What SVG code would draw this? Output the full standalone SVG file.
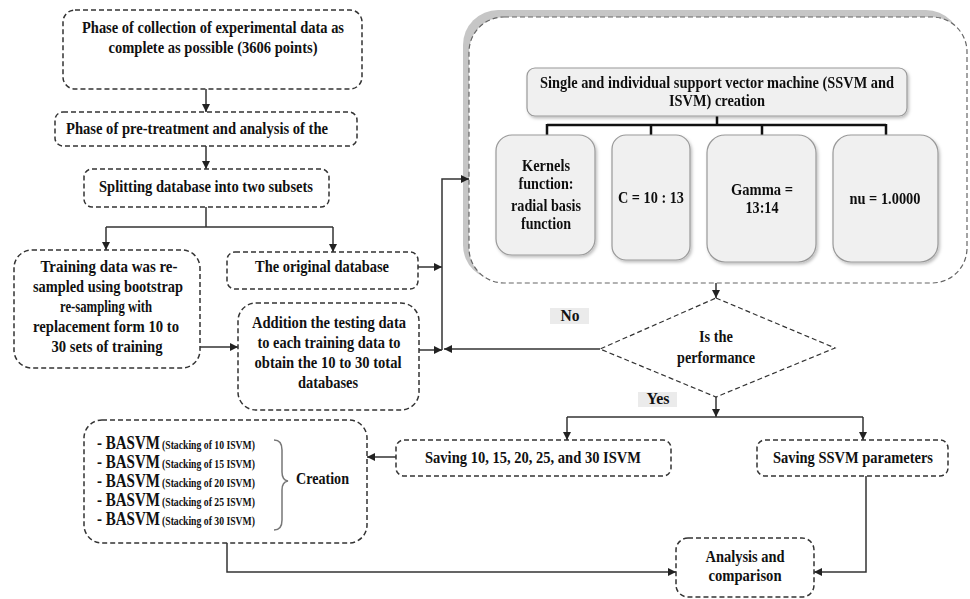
<svg xmlns="http://www.w3.org/2000/svg" width="970" height="599" viewBox="0 0 970 599">
<defs>
<style>
.t{font-family:"Liberation Serif","Times New Roman",serif;font-weight:bold;font-size:17px;fill:#111;text-anchor:middle}
.s{text-anchor:start}
.big{font-size:18px}
.st{font-size:12px}
.m{font-size:16px}
.d{fill:#fff;stroke:#333;stroke-width:1.5;stroke-dasharray:5 3}
.c{fill:none;stroke:#333;stroke-width:1.5}
.g{fill:#f0f0f0;stroke:#999;stroke-width:1.2}
.tree{fill:none;stroke:#111;stroke-width:2.5}
.lab{fill:#ebebeb}
</style>
<marker id="ah" viewBox="0 0 8 8" refX="8" refY="4" markerWidth="8" markerHeight="8" markerUnits="userSpaceOnUse" orient="auto">
<path d="M0,0 L8,4 L0,8 z" fill="#222"/>
</marker>
<filter id="sh" x="-10%" y="-10%" width="130%" height="130%">
<feDropShadow dx="1.5" dy="2" stdDeviation="1.5" flood-color="#000" flood-opacity="0.25"/>
</filter>
</defs>
<rect width="970" height="599" fill="#fff"/>

<g id="svm-container">
<rect x="463" y="10" width="498" height="270" rx="35" fill="#c6c6c6"/>
<rect x="469" y="17" width="498" height="266" rx="35" fill="#fff" stroke="#666" stroke-width="1.2" stroke-dasharray="5 3"/>
</g>

<g id="connectors">
<path class="c" d="M206,89 V112" marker-end="url(#ah)"/>
<path class="c" d="M206,146 V169" marker-end="url(#ah)"/>
<path class="c" d="M206,207 V227 M106,227 H333"/>
<path class="c" d="M106,227 V250" marker-end="url(#ah)"/>
<path class="c" d="M333,227 V252" marker-end="url(#ah)"/>
<path class="c" d="M418,267 H442" marker-end="url(#ah)"/>
<path class="c" d="M200,347 H238" marker-end="url(#ah)"/>
<path class="c" d="M419,350 H442" marker-end="url(#ah)"/>
<path class="c" d="M442,350 V179 H469" marker-end="url(#ah)"/>
<path class="c" d="M600,349 H444" marker-end="url(#ah)"/>
<path class="c" d="M716,283 V298" marker-end="url(#ah)"/>
<path class="c" d="M716,397 V417" marker-end="url(#ah)"/>
<path class="c" d="M567,417 H863"/>
<path class="c" d="M567,417 V440" marker-end="url(#ah)"/>
<path class="c" d="M863,417 V440" marker-end="url(#ah)"/>
<path class="c" d="M396,457 H367" marker-end="url(#ah)"/>
<path class="c" d="M227,543 V572 H676" marker-end="url(#ah)"/>
<path class="c" d="M866,476 V572 H814" marker-end="url(#ah)"/>
<path class="tree" d="M717,116 V125 M547,125 H886 M547,124 V135 M651,124 V135 M762,124 V135 M886,124 V135"/>
</g>

<g id="collection">
<rect class="d" x="63" y="10" width="299" height="79" rx="12"/>
<text class="t" x="213" y="33" textLength="262" lengthAdjust="spacingAndGlyphs">Phase of collection of experimental data as</text>
<text class="t" x="213" y="53" textLength="209" lengthAdjust="spacingAndGlyphs">complete as possible (3606 points)</text>
</g>

<g id="pretreatment">
<rect class="d" x="55" y="112" width="302" height="34" rx="8"/>
<text class="t s" x="66" y="134" textLength="262" lengthAdjust="spacingAndGlyphs">Phase of pre-treatment and analysis of the</text>
</g>

<g id="splitting">
<rect class="d" x="84" y="169" width="245" height="38" rx="8"/>
<text class="t" x="206" y="192" textLength="214" lengthAdjust="spacingAndGlyphs">Splitting database into two subsets</text>
</g>

<g id="training">
<rect class="d" x="14" y="250" width="186" height="118" rx="18"/>
<text class="t" x="109" y="272" textLength="137" lengthAdjust="spacingAndGlyphs">Training data was re-</text>
<text class="t" x="108" y="292" textLength="150" lengthAdjust="spacingAndGlyphs">sampled using bootstrap</text>
<text class="t" x="106" y="312" textLength="92" lengthAdjust="spacingAndGlyphs">re-sampling with</text>
<text class="t" x="106" y="332" textLength="146" lengthAdjust="spacingAndGlyphs">replacement form 10 to</text>
<text class="t" x="107" y="352" textLength="111" lengthAdjust="spacingAndGlyphs">30 sets of training</text>
</g>

<g id="original">
<rect class="d" x="227" y="252" width="191" height="37" rx="8"/>
<text class="t" x="322" y="272" textLength="134" lengthAdjust="spacingAndGlyphs">The original database</text>
</g>

<g id="addition">
<rect class="d" x="238" y="303" width="181" height="107" rx="18"/>
<text class="t" x="329" y="328" textLength="154" lengthAdjust="spacingAndGlyphs">Addition the testing data</text>
<text class="t" x="329" y="348" textLength="143" lengthAdjust="spacingAndGlyphs">to each training data to</text>
<text class="t" x="328" y="368" textLength="147" lengthAdjust="spacingAndGlyphs">obtain the 10 to 30 total</text>
<text class="t" x="328" y="388" textLength="60" lengthAdjust="spacingAndGlyphs">databases</text>
</g>

<g id="svm-creation" filter="url(#sh)">
<rect class="g" x="527" y="68" width="380" height="48" rx="8"/>
<text class="t" x="717" y="88" textLength="354" lengthAdjust="spacingAndGlyphs">Single and individual support vector machine (SSVM and</text>
<text class="t" x="717" y="106" textLength="96" lengthAdjust="spacingAndGlyphs">ISVM) creation</text>
</g>

<g id="kernels" filter="url(#sh)">
<rect class="g" x="496" y="135" width="99" height="120" rx="16"/>
<text class="t m" x="546" y="171" textLength="48" lengthAdjust="spacingAndGlyphs">Kernels</text>
<text class="t m" x="546" y="189" textLength="55" lengthAdjust="spacingAndGlyphs">function:</text>
<text class="t m" x="546" y="211" textLength="70" lengthAdjust="spacingAndGlyphs">radial basis</text>
<text class="t m" x="546" y="229" textLength="50" lengthAdjust="spacingAndGlyphs">function</text>
</g>

<g id="c-param" filter="url(#sh)">
<rect class="g" x="612" y="135" width="78" height="125" rx="14"/>
<text class="t" x="651" y="203" textLength="66" lengthAdjust="spacingAndGlyphs">C = 10 : 13</text>
</g>

<g id="gamma" filter="url(#sh)">
<rect class="g" x="707" y="135" width="109" height="127" rx="18"/>
<text class="t m" x="762" y="195" textLength="62" lengthAdjust="spacingAndGlyphs">Gamma =</text>
<text class="t m" x="762" y="213" textLength="33" lengthAdjust="spacingAndGlyphs">13:14</text>
</g>

<g id="nu" filter="url(#sh)">
<rect class="g" x="833" y="135" width="105" height="127" rx="18"/>
<text class="t" x="885" y="204" textLength="71" lengthAdjust="spacingAndGlyphs">nu = 1.0000</text>
</g>

<g id="decision">
<polygon points="716,298 835,348 716,397 600,349" fill="#fff" stroke="#333" stroke-width="1.2" stroke-dasharray="5 3"/>
<text class="t" x="716" y="342" textLength="34" lengthAdjust="spacingAndGlyphs">Is the</text>
<text class="t" x="716" y="363" textLength="78" lengthAdjust="spacingAndGlyphs">performance</text>
</g>

<g id="label-no">
<rect class="lab" x="550" y="308" width="39" height="16"/>
<text class="t" x="570" y="321" textLength="19" lengthAdjust="spacingAndGlyphs">No</text>
</g>

<g id="label-yes">
<rect class="lab" x="638" y="392" width="39" height="15"/>
<text class="t" x="658" y="404" textLength="23" lengthAdjust="spacingAndGlyphs">Yes</text>
</g>

<g id="saving-isvm">
<rect class="d" x="396" y="440" width="275" height="36" rx="8"/>
<text class="t" x="533" y="463" textLength="216" lengthAdjust="spacingAndGlyphs">Saving 10, 15, 20, 25, and 30 ISVM</text>
</g>

<g id="saving-ssvm">
<rect class="d" x="757" y="440" width="191" height="36" rx="8"/>
<text class="t" x="853" y="463" textLength="160" lengthAdjust="spacingAndGlyphs">Saving SSVM parameters</text>
</g>

<g id="basvm">
<rect class="d" x="84" y="420" width="283" height="123" rx="18"/>
<text class="t s big" x="97" y="449" textLength="63" lengthAdjust="spacingAndGlyphs">- BASVM</text>
<text class="t s st" x="162" y="449" textLength="93" lengthAdjust="spacingAndGlyphs">(Stacking of 10 ISVM)</text>
<text class="t s big" x="97" y="468" textLength="63" lengthAdjust="spacingAndGlyphs">- BASVM</text>
<text class="t s st" x="162" y="468" textLength="93" lengthAdjust="spacingAndGlyphs">(Stacking of 15 ISVM)</text>
<text class="t s big" x="97" y="487" textLength="63" lengthAdjust="spacingAndGlyphs">- BASVM</text>
<text class="t s st" x="162" y="487" textLength="93" lengthAdjust="spacingAndGlyphs">(Stacking of 20 ISVM)</text>
<text class="t s big" x="97" y="506" textLength="63" lengthAdjust="spacingAndGlyphs">- BASVM</text>
<text class="t s st" x="162" y="506" textLength="93" lengthAdjust="spacingAndGlyphs">(Stacking of 25 ISVM)</text>
<text class="t s big" x="97" y="525" textLength="63" lengthAdjust="spacingAndGlyphs">- BASVM</text>
<text class="t s st" x="162" y="525" textLength="93" lengthAdjust="spacingAndGlyphs">(Stacking of 30 ISVM)</text>
<path d="M274,440 Q282,440 282,450 L282,472 Q282,480 288,481 Q282,482 282,490 L282,520 Q282,530 274,530" fill="none" stroke="#777" stroke-width="1.5"/>
<text class="t s" x="296" y="484" textLength="53" lengthAdjust="spacingAndGlyphs">Creation</text>
</g>

<g id="analysis">
<rect class="d" x="676" y="538" width="138" height="59" rx="12"/>
<text class="t" x="745" y="562" textLength="79" lengthAdjust="spacingAndGlyphs">Analysis and</text>
<text class="t" x="745" y="581" textLength="73" lengthAdjust="spacingAndGlyphs">comparison</text>
</g>
</svg>
